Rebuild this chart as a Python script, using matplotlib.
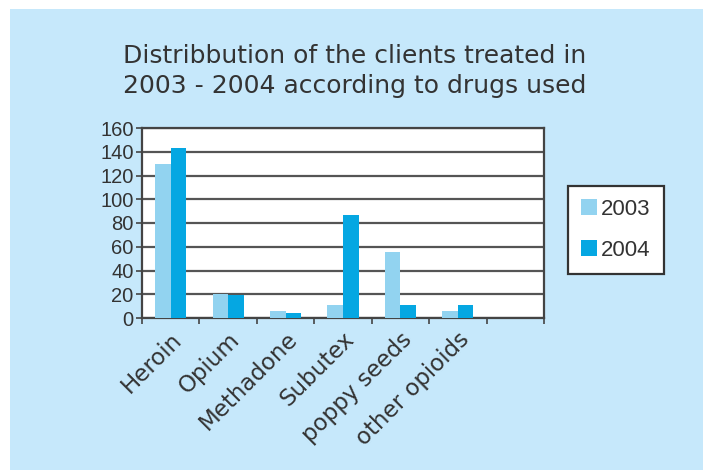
import numpy as np
import matplotlib.pyplot as plt
from matplotlib.patches import Rectangle

plt.rcParams['font.family'] = ['Liberation Sans', 'DejaVu Sans']

# Data
drugs = ["Heroin", "Opium", "Methadone", "Subutex", "poppy seeds", "other opioids"]
clients_2003 = [130, 20, 6, 11, 56, 6]
clients_2004 = [143, 19, 4, 87, 11, 11]
years = ["2003", "2004"]

bg = "#c6e8fb"
txt = "#333333"

fig = plt.figure(figsize=(7.03, 4.70), dpi=100, facecolor="white")
fig.patches.append(Rectangle((10 / 703, 0), 1, 1 - 9 / 470, transform=fig.transFigure,
                             facecolor=bg, edgecolor="none", zorder=-10))

ax = fig.add_axes([142 / 703, 1 - 318 / 470, 402 / 703, 190 / 470])
ax.set_facecolor("white")

x = np.arange(len(drugs))
w = 0.27
ax.bar(x - w / 2, clients_2003, w, color="#92d3f0", label=years[0], zorder=3)
ax.bar(x + w / 2, clients_2004, w, color="#05a7e2", label=years[1], zorder=3)

ax.set_xlim(-0.5, 6.5)
ax.set_ylim(0, 160)
ax.set_yticks(range(0, 161, 20))
ax.yaxis.grid(True, color="#555555", linewidth=1.6, zorder=1)
ax.set_axisbelow(True)

ax.set_xticks(x)
ax.set_xticklabels(drugs, rotation=45, ha="right", rotation_mode="anchor",
                   fontsize=16.5, color=txt, family="DejaVu Sans")
ax.tick_params(axis="x", length=0, pad=7)
ax.set_xticks(np.arange(-0.5, 7, 1), minor=True)
ax.tick_params(axis="x", which="minor", length=4, width=1.2, color="#444444", direction="out")
ax.tick_params(axis="y", labelsize=14.5, labelcolor=txt, length=4, width=1.2,
               color="#444444", pad=2)

for s in ax.spines.values():
    s.set_color("#444444")
    s.set_linewidth(1.6)

fig.text(355 / 703, 1 - 71 / 470, "Distribbution of the clients treated in\n2003 - 2004 according to drugs used",
         ha="center", va="center", fontsize=18, color=txt, linespacing=1.32,
         family="DejaVu Sans")

leg = fig.legend(loc="center", bbox_to_anchor=(616 / 703, 1 - 230 / 470), fontsize=16,
                 frameon=True, fancybox=False, handlelength=0.7, handleheight=0.7,
                 handletextpad=0.2, labelspacing=0.9, borderpad=0.6, labelcolor=txt)
leg.get_frame().set_edgecolor("#333333")
leg.get_frame().set_linewidth(1.6)
leg.get_frame().set_alpha(1)

fig.savefig("out.png", dpi=100, facecolor="white")
